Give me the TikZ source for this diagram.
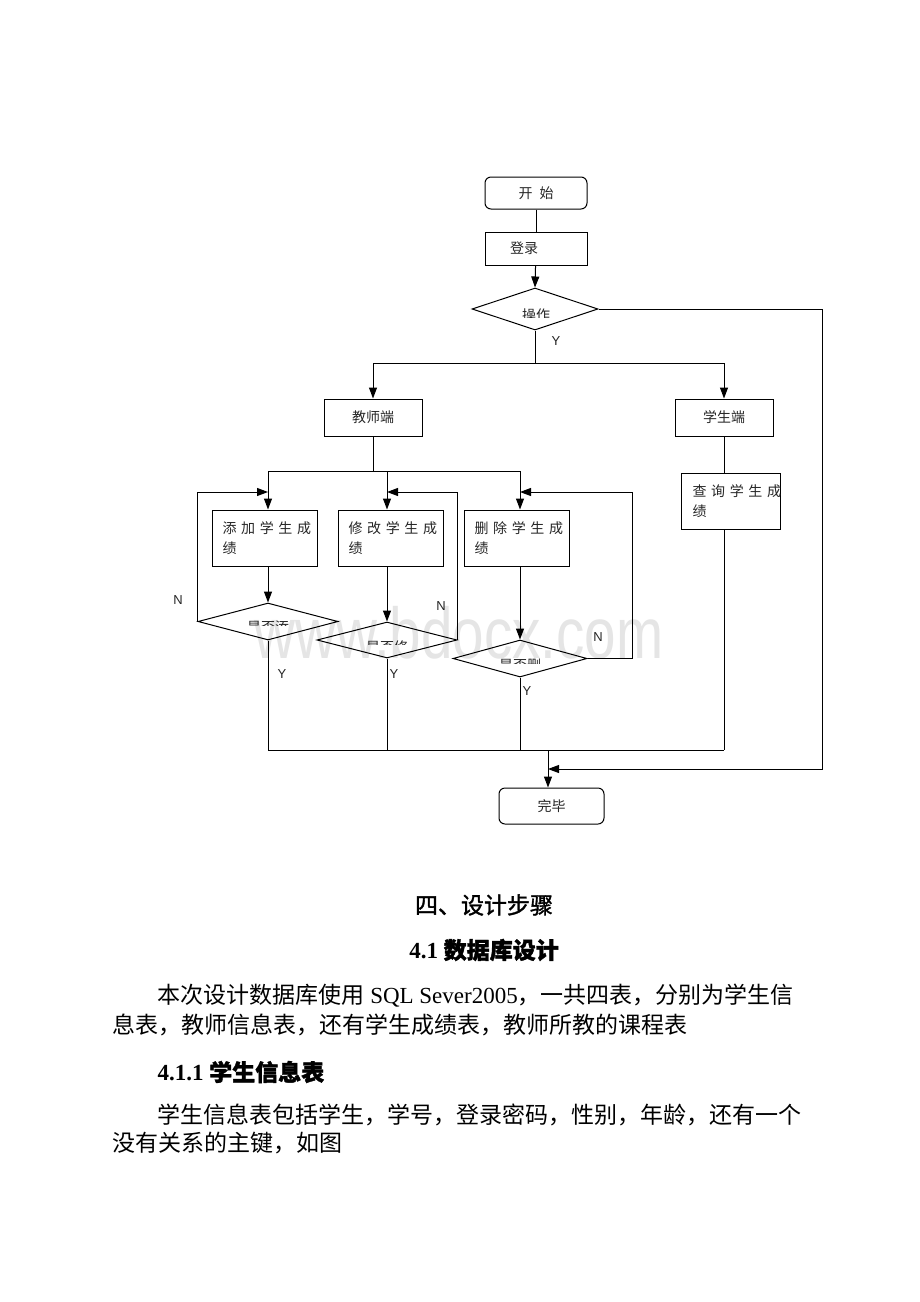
\documentclass[tikz,border=0pt]{standalone}
\usepackage{fontspec}
\setmainfont{Liberation Serif}
\newfontfamily\cjk{Noto Sans CJK SC}
\newfontfamily\cjkb[FakeBold=1.5]{Noto Sans CJK SC}
\newfontfamily\lsans{Liberation Sans}
\usetikzlibrary{shapes.geometric,arrows.meta}
\begin{document}
\begin{tikzpicture}[x=1pt,y=-1pt,
  line width=1pt,
  arr/.style={-{Triangle[length=11pt,width=8pt]}},
  fc/.style={font=\cjk\fontsize{14pt}{20pt}\selectfont, text=black!85},
  box/.style={draw, rectangle, inner sep=0pt, fc},
  box2/.style={box, align=left, minimum height=56pt},
  term/.style={draw, rounded corners=6pt, inner sep=0pt, fc},
  dia/.style={draw, diamond, inner sep=0pt},
  lbl/.style={font=\lsans\fontsize{13pt}{13pt}\selectfont, inner sep=0pt, text=black!85},
  body/.style={font=\cjk\fontsize{23pt}{23pt}\selectfont, inner sep=0pt, anchor=west},
]
\useasboundingbox (0,0) rectangle (920,1302);
\fill[white] (0,0) rectangle (920,1302);

% watermark
\node[font=\lsans\fontsize{72pt}{72pt}\selectfont, text=gray!20, inner sep=0pt, anchor=base] (wm) at (459,658) {\scalebox{0.786}[1]{www.bdocx.com}};

% top
\node[term, minimum width=102pt, minimum height=32pt] (start) at (536,193) {开\hspace{7pt}始};
\node[box, minimum width=102pt, minimum height=33pt] (login) at (536,248.5) {登录\hspace*{24pt}};
\node[dia, minimum width=126pt, minimum height=42pt] (op) at (535,309) {};
\begin{scope}
  \clip (495,300) rectangle (575,317);
  \node[fc, inner sep=0pt] (optxt) at (536,315) {操作};
\end{scope}
\draw (start) -- (login);
\draw[arr] (login) -- (op.north);

\coordinate (j1) at (535,363);
\draw (op.south) -- (j1);
\node[lbl] (y0) at (556,341) {Y};

\node[box, minimum width=98pt, minimum height=37pt] (teacher) at (373,417.5) {教师端};
\node[box, minimum width=98pt, minimum height=37pt] (student) at (724,417.5) {学生端};
\draw[arr] (j1) -| (teacher.north);
\draw[arr] (j1) -| (student.north);

\node[box2, text width=76pt, inner xsep=11.5pt] (query) at (730.5,501) {\makebox[76pt][s]{查 询 学 生 成}\\绩};
\draw (student.south) -- (student.south |- query.north);

% teacher branch
\coordinate (ca) at (268,471);
\coordinate (cm) at (387,471);
\coordinate (cd) at (520,471);
\draw (teacher.south) -- (teacher.south |- ca);
\draw (ca) -- (cd);

\node[box2, text width=84pt, inner xsep=10.5pt] (add) at (264.5,538) {\makebox[84pt][s]{添 加 学 生 成}\\绩};
\node[box2, text width=84pt, inner xsep=10.5pt] (mod) at (390.5,538) {\makebox[84pt][s]{修 改 学 生 成}\\绩};
\node[box2, text width=84pt, inner xsep=10.5pt] (del) at (516.5,538) {\makebox[84pt][s]{删 除 学 生 成}\\绩};
\draw[arr] (ca) -- (ca |- add.north);
\draw[arr] (cm) -- (cm |- mod.north);
\draw[arr] (cd) -- (cd |- del.north);

\node[dia, minimum width=140pt, minimum height=37pt] (qa) at (268,621.5) {};
\node[dia, minimum width=140pt, minimum height=36pt] (qm) at (387,640) {};
\node[dia, minimum width=134pt, minimum height=37pt] (qd) at (520,658.5) {};
\begin{scope}
  \clip (230,610) rectangle (310,625);
  \node[fc, inner sep=0pt] (qatxt) at (268,627) {是否添};
\end{scope}
\begin{scope}
  \clip (350,630) rectangle (430,644);
  \node[fc, inner sep=0pt] (qmtxt) at (387,647) {是否修};
\end{scope}
\begin{scope}
  \clip (480,648) rectangle (560,663);
  \node[fc, inner sep=0pt] (qdtxt) at (520,665) {是否删};
\end{scope}
\draw[arr] (ca |- add.south) -- (qa.north);
\draw[arr] (cm |- mod.south) -- (qm.north);
\draw[arr] (cd |- del.south) -- (qd.north);

% loops back
\coordinate (ra) at (268,492);
\coordinate (rm) at (387,492);
\coordinate (rd) at (520,492);
\coordinate (dr) at (632,492);
\draw[arr] (qa.west) |- (ra);
\draw[arr] (qm.east) |- (rm);
\draw[arr] (qd.east) -| (dr) -- (rd);

\node[lbl] (na) at (178,600) {N};
\node[lbl] (nm) at (441,606) {N};
\node[lbl] (nd) at (598,637) {N};
\node[lbl] (ya) at (282,674) {Y};
\node[lbl] (ym) at (394,674) {Y};
\node[lbl] (yd) at (527,691) {Y};

% bottom
\coordinate (bl) at (268,750);
\coordinate (br) at (724,750);
\coordinate (bm) at (548,750);
\coordinate (rr) at (822,769);
\coordinate (rj) at (548,769);
\draw (qa.south) -- (qa.south |- bl);
\draw (qm.south) -- (qm.south |- bl);
\draw (qd.south) -- (qd.south |- bl);
\draw (student.south |- query.south) -- (br);
\draw (bl) -- (br);
\node[term, minimum width=105pt, minimum height=36pt] (end) at (551.5,806) {完毕};
\draw[arr] (bm) -- (bm |- end.north);
\draw[arr] (op.east) -| (rr) -- (rj);

% text
\node[font=\cjkb\fontsize{23pt}{23pt}\selectfont, inner sep=0pt] (h1) at (484,905) {四、设计步骤};
\node[font=\fontsize{23pt}{23pt}\selectfont\bfseries, inner sep=0pt] (h2) at (484,950) {4.1 {\cjkb 数据库设计}};
\node[body] (p1) at (157,996) {本次设计数据库使用{\rmfamily\ SQL Sever2005}，一共四表，分别为学生信};
\node[body] (p2) at (112,1025) {息表，教师信息表，还有学生成绩表，教师所教的课程表};
\node[body, font=\fontsize{23pt}{23pt}\selectfont\bfseries] (p3) at (157,1072) {4.1.1 {\cjkb 学生信息表}};
\node[body] (p4) at (157,1115) {学生信息表包括学生，学号，登录密码，性别，年龄，还有一个};
\node[body] (p5) at (112,1143) {没有关系的主键，如图};
\end{tikzpicture}
\end{document}
